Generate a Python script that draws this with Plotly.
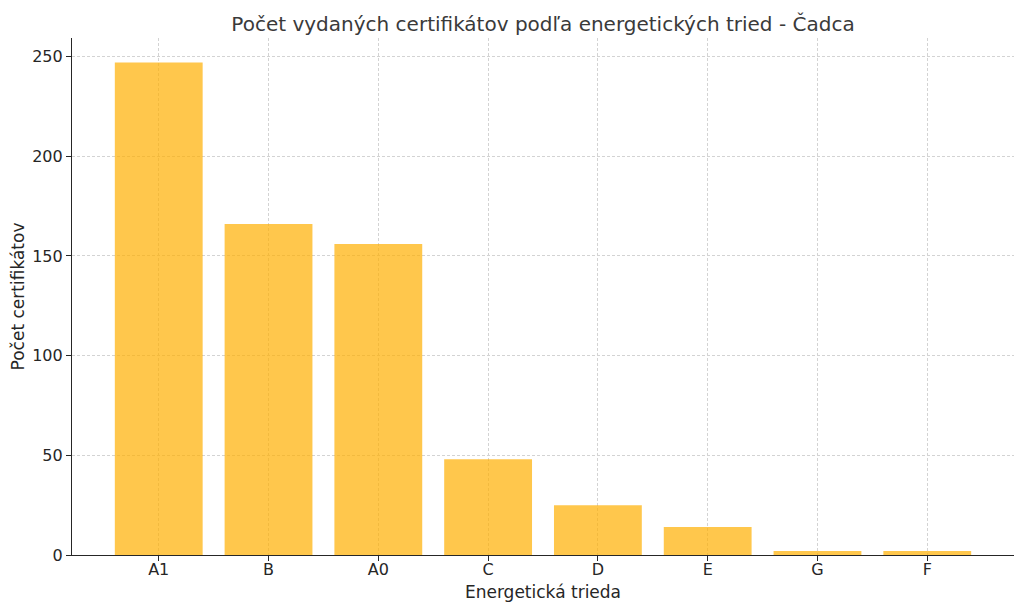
import plotly.graph_objects as go

categories = ["A1", "B", "A0", "C", "D", "E", "G", "F"]
counts = [247, 166, 156, 48, 25, 14, 2, 2]
y_ticks = [0, 50, 100, 150, 200, 250]

fig = go.Figure(go.Bar(
    x=list(range(len(categories))), y=counts, width=0.8,
    marker=dict(color="rgba(255,175,0,0.7)", line=dict(width=0)),
))

font = "DejaVu Sans"
fig.update_layout(
    width=1016, height=603,
    margin=dict(l=64, r=10, t=30, b=56),
    paper_bgcolor="white", plot_bgcolor="white",
    font=dict(family=font, size=16, color="#262626"),
    title=dict(text="Počet vydaných certifikátov podľa energetických tried - Čadca",
               x=0.5, xref="paper", xanchor="center", y=0.985, yanchor="top",
               font=dict(size=20, color="#3a3a3a")),
    showlegend=False,
    bargap=0.2,
)
fig.update_xaxes(
    tickmode="array", tickvals=list(range(len(categories))), ticktext=categories,
    range=[-0.79, 7.79],
    showline=True, linecolor="#262626", linewidth=1.2,
    ticks="outside", ticklen=5, tickcolor="#262626",
    ticklabelstandoff=-5,
    showgrid=True, gridcolor="#d3d3d3", griddash="3px,2px", gridwidth=0.8,
    title=dict(text="Energetická trieda", font=dict(size=17), standoff=7),
    zeroline=False, automargin=False,
)
fig.update_yaxes(
    tickmode="array", tickvals=y_ticks,
    range=[0, 259.35],
    showline=True, linecolor="#262626", linewidth=1.2,
    ticks="outside", ticklen=5, tickcolor="#262626",
    showgrid=True, gridcolor="#d3d3d3", griddash="3px,2px", gridwidth=0.8,
    title=dict(text="Počet certifikátov", font=dict(size=17), standoff=8),
    zeroline=False, automargin=False,
)
fig.write_html("out.html")
